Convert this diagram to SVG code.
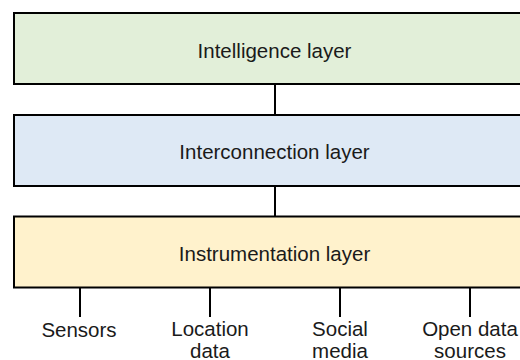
<svg xmlns="http://www.w3.org/2000/svg" width="520" height="360" viewBox="0 0 520 360">
  <style>
    .box { stroke: #000; stroke-width: 2; }
    .t { font-family: "Liberation Sans", Arial, sans-serif; font-size: 20.5px; fill: #1a1a1a; text-anchor: middle; }
    .c { stroke: #000; stroke-width: 2; fill: none; }
  </style>
  <rect width="520" height="360" fill="#ffffff"/>
  <g id="connectors">
    <line class="c" x1="275" y1="84" x2="275" y2="115"/>
    <line class="c" x1="275" y1="186" x2="275" y2="216.5"/>
    <line class="c" x1="80" y1="287.5" x2="80" y2="317"/>
    <line class="c" x1="210" y1="287.5" x2="210" y2="317"/>
    <line class="c" x1="340" y1="287.5" x2="340" y2="317"/>
    <line class="c" x1="470" y1="287.5" x2="470" y2="317"/>
  </g>
  <g id="intelligence">
    <rect class="box" x="14" y="13" width="520" height="71" fill="#e2efd9"/>
    <text class="t" x="274.5" y="57.5">Intelligence layer</text>
  </g>
  <g id="interconnection">
    <rect class="box" x="14" y="115" width="520" height="71" fill="#dee9f5"/>
    <text class="t" x="274.5" y="159">Interconnection layer</text>
  </g>
  <g id="instrumentation">
    <rect class="box" x="14" y="216.5" width="520" height="71" fill="#fff2cc"/>
    <text class="t" x="274.5" y="260.7">Instrumentation layer</text>
  </g>
  <g id="sensors">
    <text class="t" x="79" y="336.7">Sensors</text>
  </g>
  <g id="location">
    <text class="t" x="210" y="336"><tspan x="210">Location</tspan><tspan x="210" dy="21.5">data</tspan></text>
  </g>
  <g id="social">
    <text class="t" x="340" y="336"><tspan x="340">Social</tspan><tspan x="340" dy="21.5">media</tspan></text>
  </g>
  <g id="opendata">
    <text class="t" x="470" y="336"><tspan x="470">Open data</tspan><tspan x="470" dy="21.5">sources</tspan></text>
  </g>
</svg>
